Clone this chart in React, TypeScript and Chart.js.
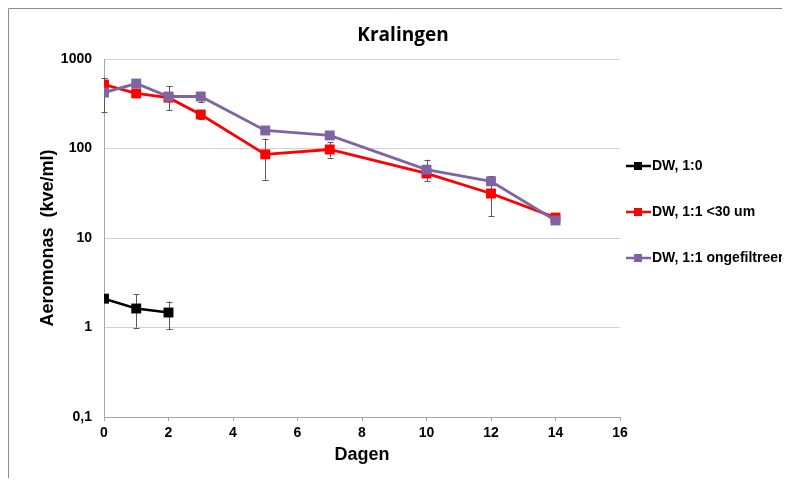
import React, { useEffect, useRef } from 'react';
import { Chart, registerables } from 'chart.js';

Chart.register(...registerables);

const chartTitle = 'Kralingen';
const xTitle = 'Dagen';
const yTitle = 'Aeromonas  (kve/ml)';
const seriesNames = ['DW, 1:0', 'DW, 1:1 <30 um', 'DW, 1:1 ongefiltreerd'];
const seriesColors = ['#000000', '#ff0000', '#8064a2'];

const daysBlack = [0, 1, 2];
const valuesBlack = [2.1, 1.63, 1.47];
const errLowBlack = [null, 1.0, 0.95];
const errHighBlack = [null, 2.34, 1.95];

const daysRed = [0, 1, 2, 3, 5, 7, 10, 12, 14];
const valuesRed = [519, 412, 370, 240, 86, 97.5, 52.6, 31.4, 16.9];
const errLowRed = [null, null, null, 216, 45, 79, null, 17.4, null];
const errHighRed = [null, null, null, 265, 129, 117, null, 49, null];

const daysPurple = [0, 1, 2, 3, 5, 7, 10, 12, 14];
const valuesPurple = [422, 532, 381, 381, 159, 140, 58, 43, 15.7];
const errLowPurple = [253, null, 266, 327, null, null, 43, null, null];
const errHighPurple = [621, null, 493, 433, null, null, 75, null, null];

const xMin = 0;
const xMax = 16;
const xStep = 2;
const yTicks = [0.1, 1, 10, 100, 1000];
const yTickLabels = ['0,1', '1', '10', '100', '1000'];

const FONT = "'Liberation Sans', Arial, sans-serif";
const CW = 774;
const CH = 470;

const framePlugin = {
  id: 'framePlugin',
  beforeDraw(chart: any) {
    const ctx = chart.ctx;
    ctx.save();
    ctx.fillStyle = '#ffffff';
    ctx.fillRect(0, 0, chart.width, chart.height);
    ctx.strokeStyle = '#8c8c8c';
    ctx.lineWidth = 1;
    ctx.beginPath();
    ctx.moveTo(0.5, chart.height);
    ctx.lineTo(0.5, 0.5);
    ctx.lineTo(chart.width, 0.5);
    ctx.stroke();
    ctx.fillStyle = '#000000';
    ctx.font = "bold 19px 'Open Sans', sans-serif";
    ctx.textAlign = 'center';
    ctx.textBaseline = 'alphabetic';
    ctx.fillText(chartTitle, 395, 32.5);
    ctx.restore();
  },
};

const errorBars = {
  id: 'errorBars',
  beforeDatasetsDraw(chart: any) {
    const ctx = chart.ctx;
    const xs = chart.scales.x;
    const ys = chart.scales.y;
    ctx.save();
    ctx.strokeStyle = '#595959';
    ctx.lineWidth = 1;
    chart.data.datasets.forEach((ds: any) => {
      ds.data.forEach((p: any, j: number) => {
        const lo = ds.errLow[j];
        const hi = ds.errHigh[j];
        if (lo == null || hi == null) return;
        const x = Math.round(xs.getPixelForValue(p.x)) + 0.5;
        const y1 = ys.getPixelForValue(lo);
        const y2 = ys.getPixelForValue(hi);
        ctx.beginPath();
        ctx.moveTo(x, y1);
        ctx.lineTo(x, y2);
        ctx.moveTo(x - 3, Math.round(y1) + 0.5);
        ctx.lineTo(x + 3, Math.round(y1) + 0.5);
        ctx.moveTo(x - 3, Math.round(y2) + 0.5);
        ctx.lineTo(x + 3, Math.round(y2) + 0.5);
        ctx.stroke();
      });
    });
    ctx.restore();
  },
};

const customLegend = {
  id: 'customLegend',
  afterDraw(chart: any) {
    const ctx = chart.ctx;
    ctx.save();
    seriesNames.forEach((name, i) => {
      const y = 158 + i * 46;
      ctx.strokeStyle = seriesColors[i];
      ctx.lineWidth = 2.5;
      ctx.beginPath();
      ctx.moveTo(618, y);
      ctx.lineTo(643, y);
      ctx.stroke();
      ctx.fillStyle = seriesColors[i];
      ctx.fillRect(626, y - 4, 8, 8);
      ctx.fillStyle = '#000000';
      ctx.font = `bold 14px ${FONT}`;
      ctx.textAlign = 'left';
      ctx.textBaseline = 'middle';
      ctx.fillText(name, 644, y);
    });
    ctx.restore();
  },
};

function toPoints(xs: number[], ys: number[]) {
  return xs.map((x, i) => ({ x, y: ys[i] }));
}

export default function App() {
  const ref = useRef<HTMLCanvasElement | null>(null);

  useEffect(() => {
    const canvas = ref.current;
    if (!canvas) return;
    const mk = (label: string, color: string, xs: number[], ys: number[], lo: any[], hi: any[], order: number, width: number) => ({
      label,
      data: toPoints(xs, ys),
      errLow: lo,
      errHigh: hi,
      borderColor: color,
      backgroundColor: color,
      borderWidth: width,
      pointStyle: 'rect',
      pointRadius: 7,
      pointBorderWidth: 0,
      pointBackgroundColor: color,
      tension: 0,
      order,
    });
    const chart = new Chart(canvas, {
      type: 'line',
      data: {
        datasets: [
          mk(seriesNames[0], seriesColors[0], daysBlack, valuesBlack, errLowBlack, errHighBlack, 2, 2.4),
          mk(seriesNames[1], seriesColors[1], daysRed, valuesRed, errLowRed, errHighRed, 1, 2.8),
          mk(seriesNames[2], seriesColors[2], daysPurple, valuesPurple, errLowPurple, errHighPurple, 0, 2.8),
        ] as any,
      },
      options: {
        responsive: false,
        animation: false,
        devicePixelRatio: 1,
        layout: { padding: { left: 0, top: 51, right: CW - 612, bottom: 0 } },
        plugins: {
          legend: { display: false },
          title: { display: false },
          tooltip: { enabled: false },
        },
        scales: {
          x: {
            type: 'linear',
            min: xMin,
            max: xMax,
            afterFit(scale: any) {
              scale.height = CH - 409;
            },
            ticks: {
              stepSize: xStep,
              color: '#000000',
              padding: 4,
              font: { family: FONT, size: 14, weight: 'bold' },
            },
            grid: {
              drawOnChartArea: false,
              drawTicks: true,
              tickLength: 4,
              color: '#a6a6a6',
            },
            border: { display: true, color: '#a6a6a6', width: 1 },
            title: {
              display: true,
              text: xTitle,
              color: '#000000',
              padding: { top: 0, bottom: 12 },
              font: { family: FONT, size: 18, weight: 'bold' },
            },
          },
          y: {
            type: 'logarithmic',
            min: yTicks[0],
            max: yTicks[yTicks.length - 1],
            afterFit(scale: any) {
              scale.width = 96;
            },
            afterBuildTicks(scale: any) {
              scale.ticks = yTicks.map((v) => ({ value: v }));
            },
            ticks: {
              color: '#000000',
              padding: 12,
              font: { family: FONT, size: 14, weight: 'bold' },
              callback: (_v: any, i: number) => yTickLabels[i],
            },
            grid: {
              drawTicks: false,
              color: '#d0d0d0',
              lineWidth: 1,
            },
            border: { display: true, color: '#a6a6a6', width: 1 },
            title: {
              display: true,
              text: yTitle,
              color: '#000000',
              padding: { top: 29, bottom: 0 },
              font: { family: FONT, size: 18, weight: 'bold' },
            },
          },
        },
      } as any,
      plugins: [framePlugin, errorBars, customLegend],
    });
    return () => chart.destroy();
  }, []);

  return (
    <div style={{ width: CW, height: CH }}>
      <canvas ref={ref} width={CW} height={CH} style={{ display: 'block' }} />
    </div>
  );
}
